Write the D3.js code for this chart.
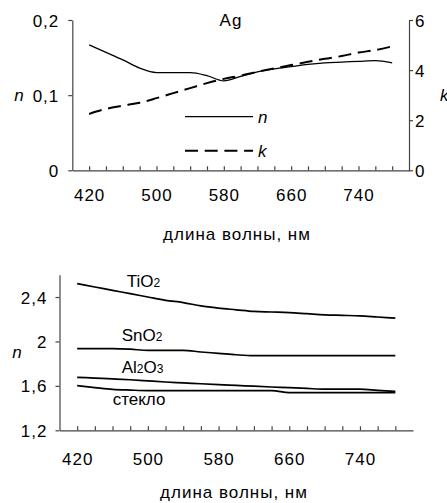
<!DOCTYPE html>
<html>
<head>
<meta charset="utf-8">
<script src="https://cdn.jsdelivr.net/npm/d3@7"></script>
<style>
  body { margin: 0; background: #fff; }
  text { font-family: "Liberation Sans", Arial, sans-serif; fill: #000; }
</style>
</head>
<body>
<svg width="447" height="503"></svg>
<script>
// wavelengths, nm
var wavelength = [420, 440, 460, 480, 500, 520, 540, 560, 580, 600, 620, 640, 660, 680, 700, 720, 740, 760, 780];
var xLabels = [420, 500, 580, 660, 740];

// Ag: refractive index n and extinction k
var agN = [0.167, 0.157, 0.147, 0.136, 0.130, 0.130, 0.130, 0.126, 0.119, 0.125, 0.131, 0.135, 0.138, 0.141, 0.143, 0.144, 0.145, 0.146, 0.143];
var agK = [2.25, 2.45, 2.58, 2.70, 2.88, 3.08, 3.28, 3.48, 3.65, 3.78, 3.93, 4.07, 4.20, 4.33, 4.45, 4.56, 4.70, 4.80, 4.95];

// dielectrics: refractive index n
var tio2  = [2.52, 2.49, 2.46, 2.43, 2.40, 2.37, 2.35, 2.32, 2.30, 2.285, 2.27, 2.265, 2.26, 2.25, 2.24, 2.235, 2.23, 2.22, 2.21];
var sno2  = [1.935, 1.935, 1.935, 1.93, 1.92, 1.92, 1.92, 1.905, 1.893, 1.88, 1.872, 1.872, 1.872, 1.872, 1.872, 1.872, 1.872, 1.872, 1.872];
var al2o3 = [1.677, 1.67, 1.663, 1.655, 1.645, 1.635, 1.627, 1.619, 1.611, 1.604, 1.597, 1.59, 1.584, 1.577, 1.57, 1.57, 1.57, 1.56, 1.551];
var glass = [1.602, 1.585, 1.569, 1.562, 1.557, 1.557, 1.557, 1.557, 1.557, 1.557, 1.557, 1.557, 1.54, 1.54, 1.54, 1.54, 1.54, 1.54, 1.54];

var nTicks = [0, 0.1, 0.2];
var kTicks = [0, 2, 4, 6];
var n2Ticks = [1.2, 1.6, 2, 2.4];

var svg = d3.select("svg");
var fontSize = 17, spacing = 1;
var comma = function (d) { return String(d).replace(".", ","); };
var axisColor = "#444";

function styleAxis(g) {
    g.select(".domain").attr("stroke", axisColor).attr("stroke-width", 1.2);
    g.selectAll(".tick line").attr("stroke", axisColor).attr("stroke-width", 1.2);
    g.selectAll("text").attr("font-size", fontSize).attr("letter-spacing", spacing)
        .attr("font-family", "Liberation Sans, Arial, sans-serif").attr("fill", "#000");
}

function xAxis(x, yPos, labelY) {
    var g = svg.append("g").attr("transform", "translate(0," + yPos + ")")
        .call(d3.axisBottom(x).tickValues(wavelength).tickSizeInner(-4).tickSizeOuter(0)
            .tickFormat(function (d) { return xLabels.indexOf(d) >= 0 ? d : ""; }));
    styleAxis(g);
    g.selectAll("text").attr("y", labelY).attr("dy", 0);
    return g;
}

// ---------- top chart: Ag ----------
var x1 = d3.scaleLinear().domain([400, 800]).range([72.3, 409]);
var yN = d3.scaleLinear().domain([0, 0.2]).range([170.3, 20]);
var yK = d3.scaleLinear().domain([0, 6]).range([170.3, 20]);

var gl = svg.append("g").attr("transform", "translate(72.3,0)")
    .call(d3.axisLeft(yN).tickValues(nTicks).tickSize(4).tickPadding(9).tickFormat(comma).tickSizeOuter(0));
styleAxis(gl);
gl.selectAll("text").attr("dy", "0.36em");

var gr = svg.append("g").attr("transform", "translate(409,0)")
    .call(d3.axisRight(yK).tickValues(kTicks).tickSize(4).tickPadding(2).tickFormat(comma).tickSizeOuter(0));
styleAxis(gr);
gr.selectAll("text").attr("dy", "0.36em");

xAxis(x1, 170.3, 31);

var lineN = d3.line().x(function (d, i) { return x1(wavelength[i]); }).y(function (d) { return yN(d); })
    .curve(d3.curveMonotoneX);
var lineK = d3.line().x(function (d, i) { return x1(wavelength[i]); }).y(function (d) { return yK(d); })
    .curve(d3.curveMonotoneX);

svg.append("path").datum(agN).attr("d", lineN)
    .attr("fill", "none").attr("stroke", "#000").attr("stroke-width", 1.3);
svg.append("path").datum(agK).attr("d", lineK)
    .attr("fill", "none").attr("stroke", "#000").attr("stroke-width", 2).attr("stroke-dasharray", "13,6.7");

svg.append("text").attr("x", 231).attr("y", 26).attr("text-anchor", "middle")
    .attr("font-size", fontSize).attr("letter-spacing", spacing).text("Ag");
svg.append("text").attr("x", 19).attr("y", 95).attr("dy", "0.36em").attr("text-anchor", "middle")
    .attr("font-size", fontSize).attr("font-style", "italic").text("n");
svg.append("text").attr("x", 440).attr("y", 95).attr("dy", "0.36em")
    .attr("font-size", fontSize).attr("font-style", "italic").text("k");

// legend
var legend = [{name: "n", y: 116.7, dash: null, w: 1.3}, {name: "k", y: 150.7, dash: "13,6.7", w: 2}];
legend.forEach(function (l) {
    svg.append("line").attr("x1", 185).attr("x2", 253).attr("y1", l.y).attr("y2", l.y)
        .attr("stroke", "#000").attr("stroke-width", l.w).attr("stroke-dasharray", l.dash);
    svg.append("text").attr("x", 258).attr("y", l.y).attr("dy", "0.36em")
        .attr("font-size", fontSize).attr("font-style", "italic").text(l.name);
});

svg.append("text").attr("x", 237).attr("y", 240).attr("text-anchor", "middle")
    .attr("font-size", fontSize).attr("letter-spacing", spacing).text("длина волны, нм");

// ---------- bottom chart: dielectrics ----------
var x2 = d3.scaleLinear().domain([400, 800]).range([59.5, 413]);
var y2 = d3.scaleLinear().domain([1.2, 2.6]).range([430.3, 274.8]);

var gl2 = svg.append("g").attr("transform", "translate(59.5,0)")
    .call(d3.axisLeft(y2).tickValues(n2Ticks).tickSize(4).tickPadding(8).tickFormat(comma).tickSizeOuter(0));
styleAxis(gl2);
gl2.selectAll("text").attr("dy", "0.36em");

xAxis(x2, 430.3, 35);

var line2 = d3.line().x(function (d, i) { return x2(wavelength[i]); }).y(function (d) { return y2(d); })
    .curve(d3.curveMonotoneX);
[tio2, sno2, al2o3, glass].forEach(function (s) {
    svg.append("path").datum(s).attr("d", line2)
        .attr("fill", "none").attr("stroke", "#000").attr("stroke-width", 1.7);
});

var labels = [
    {parts: [["TiO", 0], ["2", 1]], x: 126.7, y: 287},
    {parts: [["SnO", 0], ["2", 1]], x: 121.7, y: 340.5},
    {parts: [["Al", 0], ["2", 1], ["O", 0], ["3", 1]], x: 121.7, y: 373},
    {parts: [["стекло", 0]], x: 112.7, y: 405}
];
labels.forEach(function (l) {
    var t = svg.append("text").attr("x", l.x).attr("y", l.y).attr("font-size", fontSize);
    l.parts.forEach(function (p) {
        t.append("tspan").attr("font-size", p[1] ? 12 : fontSize).text(p[0]);
    });
});

svg.append("text").attr("x", 17).attr("y", 352).attr("dy", "0.36em").attr("text-anchor", "middle")
    .attr("font-size", fontSize).attr("font-style", "italic").text("n");

svg.append("text").attr("x", 234).attr("y", 498).attr("text-anchor", "middle")
    .attr("font-size", fontSize).attr("letter-spacing", spacing).text("длина волны, нм");
</script>
</body>
</html>
